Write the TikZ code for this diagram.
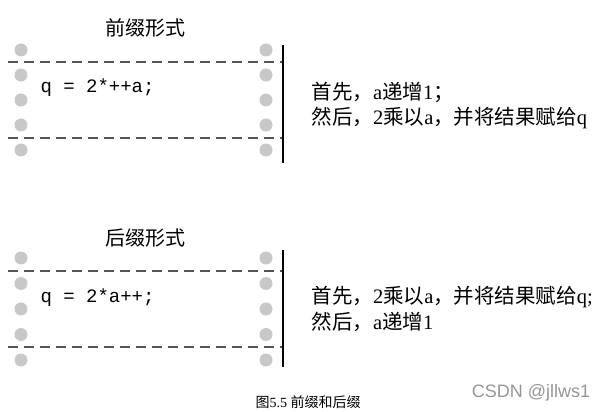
\documentclass[tikz,border=0pt]{standalone}
\usepackage{fontspec}
\setmainfont{Liberation Serif}
\setmonofont{Liberation Mono}
\newfontfamily\cjk{Noto Sans CJK SC}
\newfontfamily\wmfont{Liberation Sans}
\usetikzlibrary{positioning}
\definecolor{dotgrey}{RGB}{200,200,200}
\definecolor{cutgrey}{RGB}{85,85,85}
\definecolor{markgrey}{RGB}{150,150,150}
\newcommand{\zh}[1]{{\cjk #1}}

\begin{document}
\begin{tikzpicture}[x=1pt, y=-1pt,
    greydot/.style={fill=dotgrey},
    cutline/.style={cutgrey, line width=1.8pt, dash pattern=on 10pt off 6pt},
    edgeline/.style={black, line width=1.3pt},
    headtext/.style={font=\cjk\fontsize{20}{24}\selectfont},
    codetext/.style={anchor=west, font=\ttfamily\fontsize{19}{22}\selectfont},
    notetext/.style={anchor=west, font=\fontsize{20.5}{24}\selectfont}]
    \useasboundingbox (0,0) rectangle (606,412);
    % PREFIX FORM (top)
    \node[headtext] (prehead) at (145,28) {前缀形式};
    \foreach \y in {50,75,...,150} {
        \fill[greydot] (21,\y) circle (6.5pt);
        \fill[greydot] (266,\y) circle (6.5pt);
    }
    \draw[cutline] (8,62) -- (283,62);
    \draw[cutline] (8,138) -- (283,138);
    \draw[edgeline] (283,45) -- (283,163);
    \node[codetext] (precode) at (37,88) {q = 2*++a;};
    \node[notetext] (prestep1) at (308,92) {\zh{首先，}a\zh{递增}1\zh{；}};
    \node[notetext] (prestep2) at (308,118) {\zh{然后，}2\zh{乘以}a\zh{，并将结果赋给}q};
    % POSTFIX FORM (bottom)
    \node[headtext] (posthead) at (145,238) {后缀形式};
    \foreach \y in {258,283.5,...,360} {
        \fill[greydot] (21,\y) circle (6.5pt);
        \fill[greydot] (266,\y) circle (6.5pt);
    }
    \draw[cutline] (8,271) -- (283,271);
    \draw[cutline] (8,347) -- (283,347);
    \draw[edgeline] (283,250) -- (283,367);
    \node[codetext] (postcode) at (37,298) {q = 2*a++;};
    \node[notetext] (poststep1) at (308,297) {\zh{首先，}2\zh{乘以}a\zh{，并将结果赋给}q;};
    \node[notetext] (poststep2) at (308,322) {\zh{然后，}a\zh{递增}1};
    % caption and watermark
    \node[font=\fontsize{14}{16}\selectfont] (caption) at (308,402) {\zh{图}5.5 \zh{前缀和后缀}};
    \node[markgrey, font=\wmfont\fontsize{18}{22}\selectfont] (mark) at (531,393) {CSDN @jllws1};
\end{tikzpicture}
\end{document}
